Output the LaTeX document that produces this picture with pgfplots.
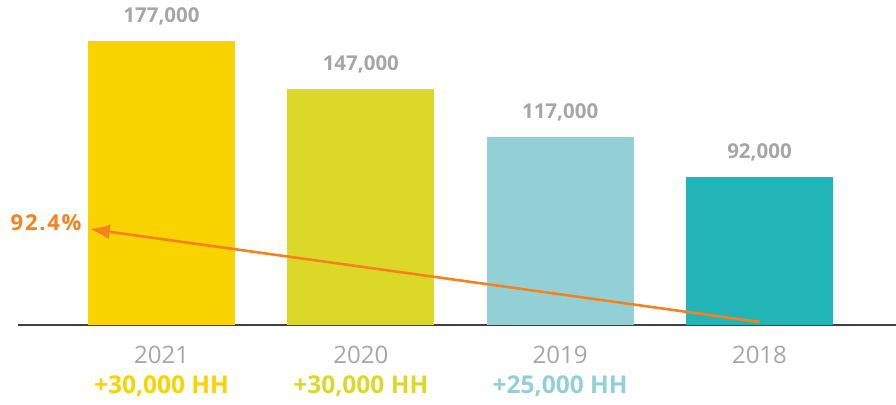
\documentclass[border=0pt]{standalone}
\usepackage{pgfplots}
\pgfplotsset{compat=1.18}
\usepackage{fontspec}
\setmainfont{Open Sans}
\usetikzlibrary{calc,arrows.meta}
\definecolor{cA}{HTML}{F9D300}
\definecolor{cB}{HTML}{DBD827}
\definecolor{cC}{HTML}{93D0D6}
\definecolor{cD}{HTML}{22B5B8}
\definecolor{gr}{HTML}{A6A6A6}
\definecolor{ax}{HTML}{404040}
\definecolor{org}{HTML}{F5821F}
\begin{document}
\begin{tikzpicture}
\begin{axis}[name=a,
  scale only axis, width=878pt, height=325pt,
  ymin=0, ymax=202555,
  xmin=-0.72, xmax=3.685,
  axis y line=none,
  axis x line*=bottom,
  x axis line style={draw=ax, line width=1.8pt, -},
  xtick={0,1,2,3}, xticklabels={2021,2020,2019,2018},
  major tick length=0pt,
  xticklabel style={font=\fontsize{24}{28}\selectfont, text=gr, anchor=center, yshift=-30pt},
  ybar, bar width=147pt, bar shift=0pt,
  clip=false,
  /pgf/number format/assume math mode=true,
  nodes near coords,
  every node near coord/.append style={font=\fontsize{20.5}{24}\selectfont\bfseries, text=gr, anchor=center, yshift=25pt},
  nodes near coords style={/pgf/number format/.cd, fixed, 1000 sep={,}, assume math mode=true},
]
\addplot[fill=cA, draw=none] coordinates {(0,177000)};
\addplot[fill=cB, draw=none] coordinates {(1,147000)};
\addplot[fill=cC, draw=none] coordinates {(2,117000)};
\addplot[fill=cD, draw=none] coordinates {(3,92000)};
\draw[org, line width=2.6pt, -{Latex[length=20pt,width=15pt]}] (axis cs:3,1900) -- (axis cs:-0.36,59800);
\node[anchor=center, text=org, font=\fontsize{22}{26}\selectfont\bfseries\addfontfeature{LetterSpace=8}] at (axis cs:-0.579,63500) {92.4\%};
\node[text=cA, font=\fontsize{24.5}{28}\selectfont\bfseries, yshift=-61pt] at (axis cs:0,0) {+30,000 HH};
\node[text=cB, font=\fontsize{24.5}{28}\selectfont\bfseries, yshift=-61pt] at (axis cs:1,0) {+30,000 HH};
\node[text=cC, font=\fontsize{24.5}{28}\selectfont\bfseries, yshift=-61pt] at (axis cs:2,0) {+25,000 HH};
\end{axis}
\pgfresetboundingbox
\path ($(a.south west)+(-18pt,-79pt)$) rectangle ($(a.south west)+(878pt,325pt)$);
\end{tikzpicture}
\end{document}
